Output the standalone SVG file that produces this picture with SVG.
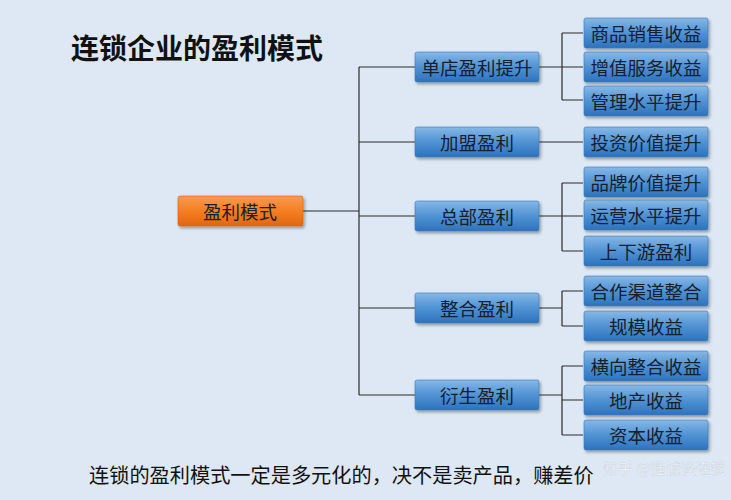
<svg xmlns="http://www.w3.org/2000/svg" width="731" height="500" viewBox="0 0 731 500">
<defs>
<linearGradient id="gBlue" x1="0" y1="0" x2="0" y2="1">
<stop offset="0" stop-color="#86b8e6"/>
<stop offset="0.45" stop-color="#5596d6"/>
<stop offset="1" stop-color="#2c72bd"/>
</linearGradient>
<linearGradient id="gOrange" x1="0" y1="0" x2="0" y2="1">
<stop offset="0" stop-color="#fb9a4c"/>
<stop offset="0.5" stop-color="#f57f22"/>
<stop offset="1" stop-color="#e0660d"/>
</linearGradient>
<filter id="sh" x="-10%" y="-20%" width="125%" height="150%">
<feDropShadow dx="1.5" dy="2" stdDeviation="1.5" flood-color="#000" flood-opacity="0.35"/>
</filter>
</defs>
<style>
.b{fill:url(#gBlue);stroke:#3a78b8;stroke-width:0.6;filter:url(#sh)}
.o{fill:url(#gOrange);stroke:#d9660f;stroke-width:0.6;filter:url(#sh)}
.t{font-family:"Noto Sans CJK SC","Noto Sans CJK JP",sans-serif;font-size:18.5px;fill:#15202e;text-anchor:middle;dominant-baseline:central}
.ln{fill:none;stroke:#2b2b2b;stroke-width:1.2}
</style>
<rect width="731" height="500" fill="#dde8f4"/>
<text x="71" y="59" font-family="Noto Sans CJK SC,sans-serif" font-size="28" font-weight="bold" fill="#111">连锁企业的盈利模式</text>

<g id="connectors" class="ln">
<path d="M303 211H359M359 67V395M359 67H415M359 142H415M359 216H415M359 308H415M359 395H415"/>
<path d="M539 67H562M562 33V100M562 33H583M562 67H583M562 100H583"/>
<path d="M539 142H583"/>
<path d="M539 216H562M562 183V251M562 183H583M562 216H583M562 251H583"/>
<path d="M539 308H562M562 291V326M562 291H583M562 326H583"/>
<path d="M539 395H562M562 366V435M562 366H583M562 400H583M562 435H583"/>
</g>

<g id="root"><rect class="o" x="178" y="196" width="125" height="30" rx="2"/><text class="t" x="240" y="211">盈利模式</text></g>

<g id="n1"><rect class="b" x="415" y="52" width="124" height="30" rx="2"/><text class="t" x="477" y="67">单店盈利提升</text></g>
<g id="n2"><rect class="b" x="415" y="127" width="124" height="30" rx="2"/><text class="t" x="477" y="142">加盟盈利</text></g>
<g id="n3"><rect class="b" x="415" y="201" width="124" height="30" rx="2"/><text class="t" x="477" y="216">总部盈利</text></g>
<g id="n4"><rect class="b" x="415" y="293" width="124" height="30" rx="2"/><text class="t" x="477" y="308">整合盈利</text></g>
<g id="n5"><rect class="b" x="415" y="380" width="124" height="30" rx="2"/><text class="t" x="477" y="395">衍生盈利</text></g>

<g id="l1"><rect class="b" x="584" y="18" width="124" height="30" rx="2"/><text class="t" x="646" y="33">商品销售收益</text></g>
<g id="l2"><rect class="b" x="584" y="52" width="124" height="30" rx="2"/><text class="t" x="646" y="67">增值服务收益</text></g>
<g id="l3"><rect class="b" x="584" y="86" width="124" height="30" rx="2"/><text class="t" x="646" y="101">管理水平提升</text></g>
<g id="l4"><rect class="b" x="584" y="127" width="124" height="30" rx="2"/><text class="t" x="646" y="142">投资价值提升</text></g>
<g id="l5"><rect class="b" x="584" y="167" width="124" height="30" rx="2"/><text class="t" x="646" y="182">品牌价值提升</text></g>
<g id="l6"><rect class="b" x="584" y="200" width="124" height="30" rx="2"/><text class="t" x="646" y="215">运营水平提升</text></g>
<g id="l7"><rect class="b" x="584" y="236" width="124" height="30" rx="2"/><text class="t" x="646" y="251">上下游盈利</text></g>
<g id="l8"><rect class="b" x="584" y="276" width="124" height="30" rx="2"/><text class="t" x="646" y="291">合作渠道整合</text></g>
<g id="l9"><rect class="b" x="584" y="311" width="124" height="30" rx="2"/><text class="t" x="646" y="326">规模收益</text></g>
<g id="l10"><rect class="b" x="584" y="351" width="124" height="30" rx="2"/><text class="t" x="646" y="366">横向整合收益</text></g>
<g id="l11"><rect class="b" x="584" y="385" width="124" height="30" rx="2"/><text class="t" x="646" y="400">地产收益</text></g>
<g id="l12"><rect class="b" x="584" y="420" width="124" height="30" rx="2"/><text class="t" x="646" y="435">资本收益</text></g>

<text x="89" y="483" font-family="Noto Sans CJK SC,sans-serif" font-size="20.2" fill="#111">连锁的盈利模式一定是多元化的，决不是卖产品，赚差价</text>
<text x="603" y="474" font-family="Noto Sans CJK SC,sans-serif" font-size="15" fill="#ffffff" fill-opacity="0.8" stroke="#9aa8b8" stroke-opacity="0.4" stroke-width="0.5">知乎 @强诚谈连锁</text>
</svg>
